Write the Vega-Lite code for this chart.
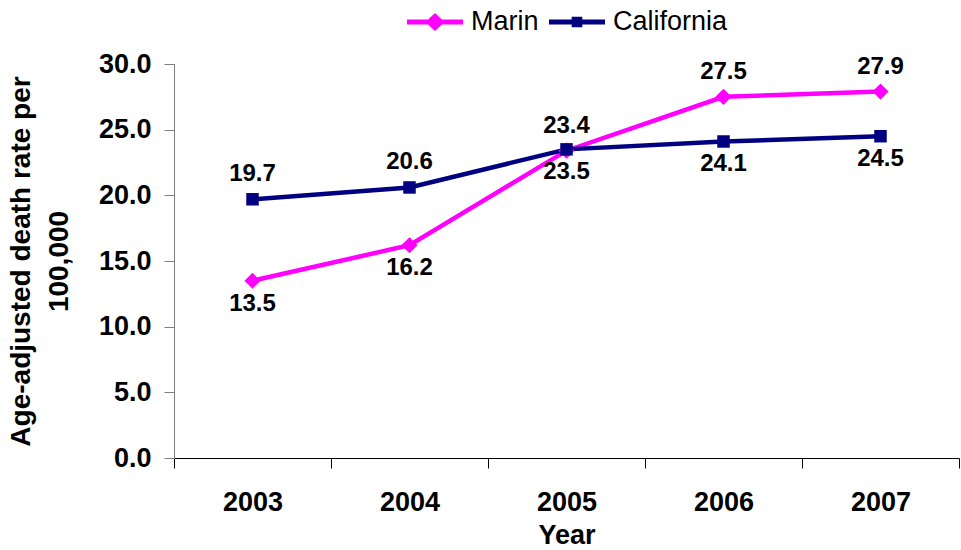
{
  "$schema": "https://vega.github.io/schema/vega-lite/v6.json",
  "width": 785,
  "height": 394,
  "autosize": {"type": "none"},
  "padding": {"left": 174, "top": 64, "right": 2, "bottom": 92},
  "background": "white",
  "config": {
    "view": {"stroke": null},
    "font": "Liberation Sans",
    "legend": {"orient": "none", "legendX": 233, "legendY": -70, "direction": "horizontal"}
  },
  "data": {
    "values": [
      {"year": "2003", "series": "Marin", "rate": 13.5},
      {"year": "2004", "series": "Marin", "rate": 16.2},
      {"year": "2005", "series": "Marin", "rate": 23.4},
      {"year": "2006", "series": "Marin", "rate": 27.5},
      {"year": "2007", "series": "Marin", "rate": 27.9},
      {"year": "2003", "series": "California", "rate": 19.7},
      {"year": "2004", "series": "California", "rate": 20.6},
      {"year": "2005", "series": "California", "rate": 23.5},
      {"year": "2006", "series": "California", "rate": 24.1},
      {"year": "2007", "series": "California", "rate": 24.5}
    ]
  },
  "encoding": {
    "x": {
      "field": "year", "type": "ordinal",
      "scale": {"paddingInner": 0, "paddingOuter": 0},
      "axis": {
        "title": "Year", "titleFont": "Liberation Sans", "titleFontSize": 27, "titleFontWeight": "bold", "titleColor": "black", "titlePadding": 7,
        "labelAngle": 0, "labelFont": "Liberation Sans", "labelFontSize": 27, "labelFontWeight": "bold", "labelColor": "black", "labelPadding": 21,
        "tickBand": "extent", "tickSize": 10, "tickColor": "#000000", "domainColor": "#000000", "domainWidth": 1, "grid": false
      }
    },
    "y": {
      "field": "rate", "type": "quantitative",
      "scale": {"domain": [0, 30], "nice": false},
      "axis": {
        "title": ["Age-adjusted death rate per", "100,000"], "titleFont": "Liberation Sans", "titleFontSize": 28, "titleFontWeight": "bold", "titleColor": "black", "titlePadding": 25, "titleLineHeight": 38,
        "values": [0, 5, 10, 15, 20, 25, 30], "format": ".1f",
        "labelFont": "Liberation Sans", "labelFontSize": 27, "labelFontWeight": "bold", "labelColor": "black", "labelPadding": 13,
        "tickSize": 10, "tickColor": "#808080", "domainColor": "#808080", "grid": false
      }
    }
  },
  "layer": [
    {
      "mark": {"type": "line", "strokeWidth": 4.5},
      "encoding": {
        "color": {"field": "series", "type": "nominal", "scale": {"domain": ["Marin", "California"], "range": ["#FF00FF", "#000080"]}, "legend": null}
      }
    },
    {
      "mark": {"type": "point", "filled": true, "opacity": 1},
      "encoding": {
        "color": {"field": "series", "type": "nominal", "scale": {"domain": ["Marin", "California"], "range": ["#FF00FF", "#000080"]}, "legend": null},
        "shape": {"field": "series", "type": "nominal", "scale": {"domain": ["Marin", "California"], "range": ["diamond", "square"]}, "legend": null},
        "size": {"field": "series", "type": "nominal", "scale": {"domain": ["Marin", "California"], "range": [260, 156]}, "legend": null}
      }
    },
    {
      "transform": [{"filter": "(datum.series == 'Marin' && datum.year >= '2005') || (datum.series == 'California' && datum.year <= '2004')"}],
      "mark": {"type": "text", "dy": -25, "font": "Liberation Sans", "fontSize": 24, "fontWeight": "bold", "color": "black", "baseline": "middle"},
      "encoding": {"text": {"field": "rate", "type": "quantitative", "format": ".1f"}}
    },
    {
      "transform": [{"filter": "!((datum.series == 'Marin' && datum.year >= '2005') || (datum.series == 'California' && datum.year <= '2004'))"}],
      "mark": {"type": "text", "dy": 23, "font": "Liberation Sans", "fontSize": 24, "fontWeight": "bold", "color": "black", "baseline": "middle"},
      "encoding": {"text": {"field": "rate", "type": "quantitative", "format": ".1f"}}
    },
    {
      "transform": [{"filter": "false"}],
      "mark": {"type": "point", "filled": true, "opacity": 1},
      "encoding": {
        "color": {"field": "series", "type": "nominal", "scale": {"domain": ["Marin", "California"], "range": ["#FF00FF", "#000080"]},
          "legend": {"title": null, "orient": "none", "legendX": 233, "legendY": -70, "direction": "horizontal", "symbolSize": 3136, "symbolStrokeWidth": 0, "labelFont": "Liberation Sans", "labelFontSize": 27, "labelColor": "black", "labelOffset": 8, "columnPadding": 10}},
        "shape": {"field": "series", "type": "nominal", "scale": {"domain": ["Marin", "California"], "range": ["M-1,-0.09H1V0.09H-1Z M0,-0.32L0.34,0L0,0.32L-0.34,0Z", "M-1,-0.09H1V0.09H-1Z M-0.19,-0.19H0.19V0.19H-0.19Z"]},
          "legend": {"title": null, "orient": "none", "legendX": 233, "legendY": -70, "direction": "horizontal", "symbolSize": 3136, "symbolStrokeWidth": 0, "labelFont": "Liberation Sans", "labelFontSize": 27, "labelColor": "black", "labelOffset": 8, "columnPadding": 10}}
      }
    }
  ],
  "resolve": {"scale": {"color": "independent", "shape": "independent"}}
}
